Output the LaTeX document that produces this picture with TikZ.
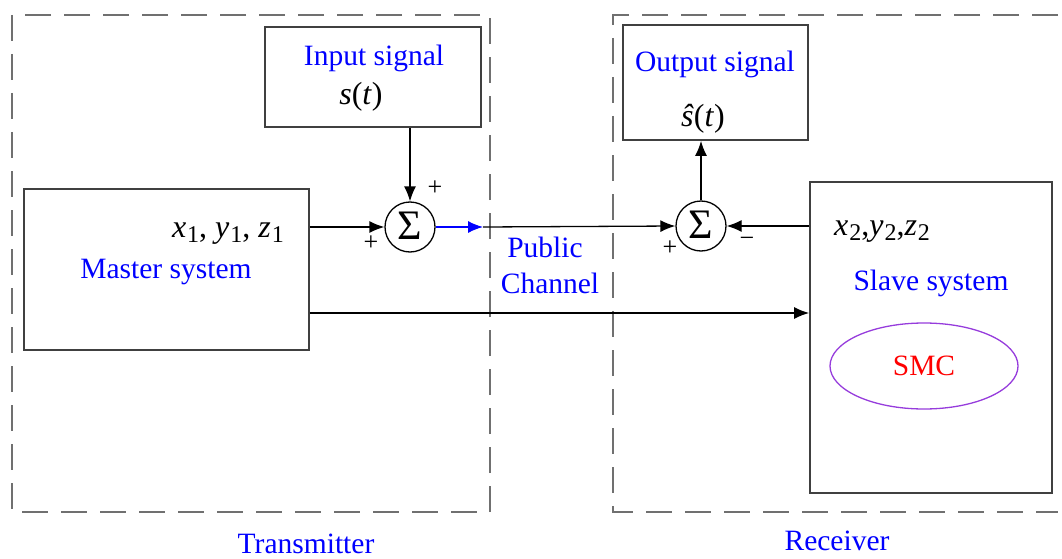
\documentclass[tikz,border=0pt]{standalone}
\usepackage{fontspec}
\setmainfont{Liberation Serif}
\usetikzlibrary{arrows.meta,shapes.geometric}
\definecolor{dashgray}{RGB}{112,112,112}
\definecolor{boxgray}{RGB}{64,64,64}
\definecolor{smcviolet}{RGB}{150,60,220}
\newcommand\fsz[1]{\fontsize{#1}{#1}\selectfont}
\newcommand\ivar[2]{\textit{#1}\kern0.03em\raisebox{-0.35ex}{\fsz{24}#2}}
\begin{document}
\begin{tikzpicture}[x=1pt,y=-1pt,
  frame/.style={draw=dashgray,line width=2.5pt,dash pattern=on 26pt off 13pt},
  blockbox/.style={draw=boxgray,line width=1.8pt,inner sep=0pt},
  sumnode/.style={circle,draw=black,line width=1.3pt,minimum size=50pt,inner sep=0pt,font=\fsz{42}},
  lbl/.style={text=blue,font=\fsz{29.5},inner sep=0pt,anchor=base},
  mathlbl/.style={font=\fsz{32},inner sep=0pt,anchor=base},
  conn/.style={line width=1.3pt,-{Latex[length=15pt,width=12pt]}},
  sign/.style={font=\fsz{26},inner sep=0pt}
]
\useasboundingbox (0,0) rectangle (1062,559);

% dashed frames
\draw[frame] (12,15) rectangle (490,512);
\draw[frame] (1058,15) -- (613,15) -- (613,512) -- (1058,512);

% blocks
\node[blockbox,minimum width=285pt,minimum height=161pt] (master) at (166.5,269.5) {};
\node[blockbox,minimum width=242pt,minimum height=311pt] (slave) at (931,337.5) {};
\node[blockbox,minimum width=216pt,minimum height=100pt] (input) at (373,77) {};
\node[blockbox,minimum width=185pt,minimum height=115pt] (output) at (715.5,82.5) {};

% summing junctions
\node[sumnode] (sum1) at (410,227) {\raisebox{0.08em}{Σ}};
\node[sumnode] (sum2) at (701,226) {\raisebox{0.08em}{Σ}};

% texts
\node[lbl] (mastertxt) at (166,278) {Master system};
\node[mathlbl,anchor=base east] (xyz1) at (284,237) {\ivar{x}{1}, \ivar{y}{1}, \ivar{z}{1}};
\node[mathlbl,anchor=base west] (xyz2) at (834,235) {\ivar{x}{2},\ivar{y}{2},\ivar{z}{2}};
\node[lbl] (slavetxt) at (931,290) {Slave system};
\node[lbl] (pub) at (545,257) {Public};
\node[lbl] (chan) at (550,293) {Channel};
\node[lbl] (intxt) at (374,66) {Input signal};
\node[mathlbl] (st) at (361,105) {\textit{s}(\textit{t})};
\node[lbl] (outtxt) at (715,72) {Output signal};
\node[mathlbl] (shat) at (703,127) {\textit{ŝ}(\textit{t})};
\node[ellipse,draw=smcviolet,line width=1.3pt,minimum width=188pt,minimum height=86pt,text=red,font=\fsz{29.5}] (smc) at (924,366) {SMC};
\node[lbl] (tx) at (306,553) {Transmitter};
\node[lbl] (rx) at (837,550) {Receiver};

% signs
\node[sign] (p1) at (435,188) {+};
\node[sign] (p2) at (371,243) {+};
\node[sign] (p3) at (670,248) {+};
\node[sign] (m1) at (747,242) {\textminus};

% connectors
\coordinate (tip) at (483,227);
\draw[conn] (sum1.west -| master.east) -- (sum1.west);
\draw[conn] (input.south -| sum1.north) -- (sum1.north);
\draw[conn,draw=blue] (sum1.east) -- (tip);
\draw[conn] (tip) -- (sum2.west);
\draw[conn] (sum2.north) -- (sum2.north |- output.south);
\draw[conn] (sum2.east -| slave.west) -- (sum2.east);
\draw[conn] ([yshift=-43.5pt]master.east) coordinate (m2) -- (m2 -| slave.west);
\end{tikzpicture}
\end{document}
